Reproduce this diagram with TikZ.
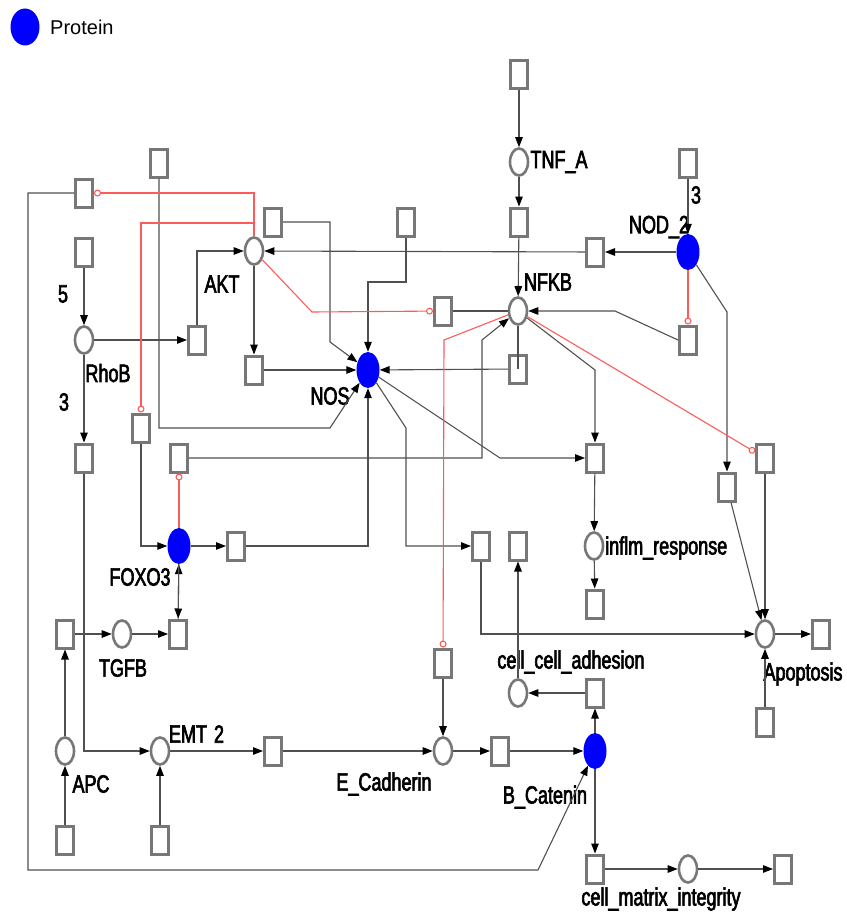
\documentclass[tikz,border=0pt]{standalone}
\usepackage{fontspec}
\setmainfont{Liberation Sans}
\newfontfamily\labfont[FakeStretch=0.72,FakeBold=2.5]{Liberation Sans}
\usetikzlibrary{arrows.meta,shapes.geometric}
\definecolor{blau}{HTML}{0000FF}
\definecolor{tgrau}{HTML}{777777}
\definecolor{agrau}{HTML}{505050}
\definecolor{rot}{HTML}{FF5A5A}
\tikzset{
  stelle/.style={ellipse,draw=tgrau,line width=2.6pt,fill=white,minimum width=18pt,minimum height=27pt,inner sep=0pt},
  protein/.style={ellipse,fill=blau,minimum width=23pt,minimum height=36pt,inner sep=0pt},
  trans/.style={rectangle,draw=tgrau,line width=3pt,fill=white,minimum width=17pt,minimum height=28pt,inner sep=0pt},
  arc/.style={agrau,line width=1.1pt,-{Triangle[length=10pt,width=7.5pt,color=black]}},
  lese/.style={agrau,line width=1.1pt},
  inhib/.style={rot,line width=1.1pt,-{Circle[length=7pt,width=7pt,fill=white]}},
  lab/.style={font=\labfont\fontsize{25}{28}\selectfont,inner sep=0pt},
}

\begin{document}
\begin{tikzpicture}[x=1pt,y=-1pt]
  \useasboundingbox (0,0) rectangle (846,915);
  % legend
  \node[protein,minimum width=29pt,minimum height=37pt] (legende) at (25,27) {};
  \node[anchor=west,inner sep=0pt,font=\fontsize{20}{24}\selectfont] (legtext) at (50,27) {Protein};

  % places
  \node[stelle] (tnfa) at (519,162) {};
  \node[stelle] (akt) at (254,251) {};
  \node[stelle] (nfkb) at (518,311) {};
  \node[stelle] (rhob) at (84,340) {};
  \node[stelle] (inflm) at (594,546) {};
  \node[stelle] (apop) at (765,634) {};
  \node[stelle] (tgfb) at (122,634) {};
  \node[stelle] (apc) at (65,751) {};
  \node[stelle] (emt) at (160,751) {};
  \node[stelle] (ecad) at (443,751) {};
  \node[stelle] (cca) at (518,693) {};
  \node[stelle] (cmi) at (688,869) {};
  \node[protein] (nos) at (368,370) {};
  \node[protein] (nod) at (688,252) {};
  \node[protein] (foxo) at (179,546) {};
  \node[protein] (bcat) at (595,751) {};

  % labels
  \node[lab] (ltnfa) at (559,162) {TNF\_A};
  \node[lab] (lakt) at (222,284) {AKT};
  \node[lab] (lnfkb) at (548,282) {NFKB};
  \node[lab] (lrhob) at (108,373) {RhoB};
  \node[lab,anchor=west] (linflm) at (605,548) {inflm\_response};
  \node[lab] (lapop) at (803,674) {Apoptosis};
  \node[lab] (ltgfb) at (123,668) {TGFB};
  \node[lab] (lapc) at (91,784) {APC};
  \node[lab] (lemt) at (188,734) {EMT};
  \node[lab] (lecad) at (384,784) {E\_Cadherin};
  \node[lab] (lcca) at (571,662) {cell\_cell\_adhesion};
  \node[lab] (lcmi) at (661,899) {cell\_matrix\_integrity};
  \node[lab] (lnos) at (330,396) {NOS};
  \node[lab] (lnod) at (659,227) {NOD\_2};
  \node[lab] (lfoxo) at (140,577) {FOXO3};
  \node[lab] (lbcat) at (545,797) {B\_Catenin};
  \node[lab] (w5) at (63,294) {5};
  \node[lab] (w3a) at (64,402) {3};
  \node[lab] (w3b) at (696,195) {3};
  \node[lab] (w2) at (219,734) {2};

  % transitions
  \node[trans] (tTnfIn) at (519,75) {};
  \node[trans] (tNfkbIn) at (519,222) {};
  \node[trans] (tNodIn) at (688,163) {};
  \node[trans] (tAktIn) at (595,252) {};
  \node[trans] (tNodInh) at (688,340) {};
  \node[trans] (tApopA) at (765,458) {};
  \node[trans] (tApopB) at (727,487) {};
  \node[trans] (tInflm) at (595,458) {};
  \node[trans] (tInflmOut) at (595,604) {};
  \node[trans] (tApopOut) at (821,634) {};
  \node[trans] (tApopIn) at (765,722) {};
  \node[trans] (tCca) at (595,693) {};
  \node[trans] (tCmi) at (595,869) {};
  \node[trans] (tCmiOut) at (783,869) {};
  \node[trans] (tBcat) at (500,751) {};
  \node[trans] (tEcadIn) at (443,663) {};
  \node[trans] (tApopC) at (481,546) {};
  \node[trans] (tCcaOut) at (518,546) {};
  \node[trans] (tEcad) at (273,751) {};
  \node[trans] (tApcIn) at (65,840) {};
  \node[trans] (tEmtIn) at (160,840) {};
  \node[trans] (tTgfbIn) at (65,634) {};
  \node[trans] (tFoxoIn) at (178,634) {};
  \node[trans] (tFoxoOut) at (236,546) {};
  \node[trans] (tNfkbB) at (179,458) {};
  \node[trans] (tFoxoA) at (141,428) {};
  \node[trans] (tEmt) at (84,458) {};
  \node[trans] (tAkt) at (197,340) {};
  \node[trans] (tNos) at (254,370) {};
  \node[trans] (tRhobIn) at (84,252) {};
  \node[trans] (tBcatIn) at (84,193) {};
  \node[trans] (tNosA) at (159,163) {};
  \node[trans] (tNosB) at (273,222) {};
  \node[trans] (tNosC) at (406,222) {};
  \node[trans] (tNfkbRead) at (443,311) {};
  \node[trans] (tNosD) at (518,369) {};

  % arcs
  \draw[arc] (tTnfIn) -- (tnfa);
  \draw[arc] (tnfa) -- (tNfkbIn);
  \draw[arc] (tNfkbIn) -- (nfkb);
  \draw[arc] (tNodIn) -- (nod);
  \draw[arc] (nod) -- (tAktIn);
  \draw[arc] (tAktIn) -- (akt);
  \draw[arc] (tNodInh.west) -- (615,311) -- (nfkb);
  \draw[arc] (nod) -- (727,312) -- (tApopB);
  \draw[arc] (tApopB) -- (apop);
  \draw[arc] (tApopA) -- (apop);
  \draw[arc] (nfkb) -- (595,370) -- (tInflm);
  \draw[arc] (tInflm) -- (inflm);
  \draw[arc] (inflm) -- (tInflmOut);
  \draw[arc] (apop) -- (tApopOut);
  \draw[arc] (tApopIn) -- (apop);
  \draw[arc] (nos) -- (500,458) -- (tInflm);
  \draw[arc] (tNfkbB) -- (482,458) -- (482,340) -- (nfkb);
  \draw[lese] (nfkb) -- (tNosD.center);
  \draw[arc] (tNosD) -- (nos);
  \draw[lese] (tNfkbRead) -- (nfkb);
  \draw[arc] (tEcadIn) -- (ecad);
  \draw[arc] (emt) -- (tEcad);
  \draw[arc] (tEcad) -- (ecad);
  \draw[arc] (ecad) -- (tBcat);
  \draw[arc] (tBcat) -- (bcat);
  \draw[arc] (bcat) -- (tCca);
  \draw[arc] (tCca) -- (cca);
  \draw[arc] (cca) -- (tCcaOut);
  \draw[arc] (bcat) -- (tCmi);
  \draw[arc] (tCmi) -- (cmi);
  \draw[arc] (cmi) -- (tCmiOut);
  \draw[arc] (tApopC) |- (apop);
  \draw[arc] (nos) -- (406,428) -- (406,546) -- (tApopC);
  \draw[arc] (tFoxoOut) -| (nos);
  \draw[arc] (foxo) -- (tFoxoOut);
  \draw[arc] (tFoxoA) |- (foxo);
  \draw[arc] (tFoxoIn) -- (foxo);
  \draw[arc] (foxo) -- (tFoxoIn);
  \draw[arc] (tTgfbIn) -- (tgfb);
  \draw[arc] (tgfb) -- (tFoxoIn);
  \draw[arc] (apc) -- (tTgfbIn);
  \draw[arc] (tApcIn) -- (apc);
  \draw[arc] (tEmtIn) -- (emt);
  \draw[arc] (tEmt) |- (emt);
  \draw[arc] (rhob) -- (tEmt);
  \draw[arc] (tRhobIn) -- (rhob);
  \draw[arc] (rhob) -- (tAkt);
  \draw[arc] (tAkt) |- (akt);
  \draw[arc] (akt) -- (tNos);
  \draw[arc] (tNos) -- (nos);
  \draw[arc] (tNosB) -- (330,222) -- (330,342) -- (nos);
  \draw[arc] (tNosC) |- (368,282) -- (nos);
  \draw[arc] (tNosA) -- (159,428) -- (330,428) -- (nos);
  \draw[arc] (tBcatIn) -- (28,193) -- (28,870) -- (538,870) -- (bcat);

  % inhibitor arcs
  \draw[inhib] (nod) -- (tNodInh);
  \draw[inhib] (nfkb) -- (tApopA);
  \draw[inhib] (akt) -- (312,312) -- (tNfkbRead);
  \draw[inhib] (nfkb) -- (444,340) -- (tEcadIn);
  \draw[inhib] (akt) -- (254,223) -| (tFoxoA);
  \draw[inhib] (akt) |- (tBcatIn);
  \draw[inhib] (foxo) -- (tNfkbB);
\end{tikzpicture}
\end{document}
